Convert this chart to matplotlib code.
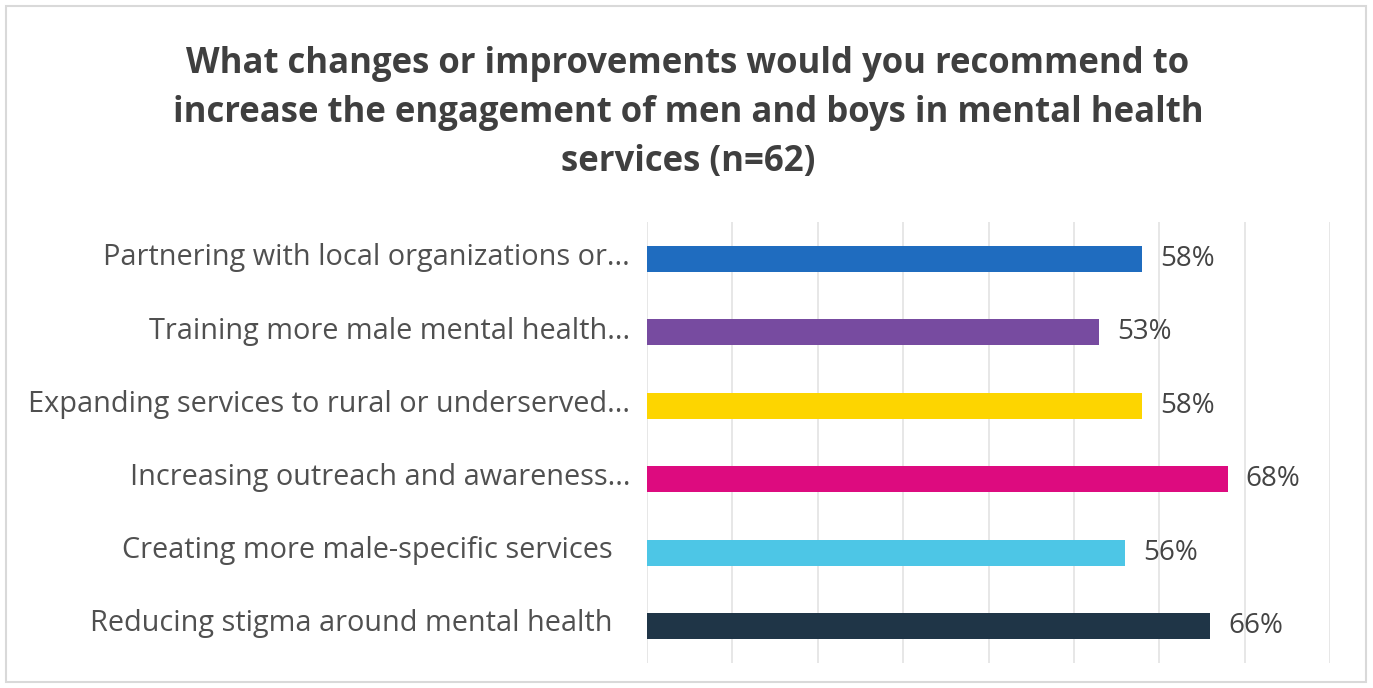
import matplotlib
matplotlib.use("Agg")
from matplotlib import pyplot as plt
from matplotlib.patches import Rectangle

# survey responses, top to bottom as shown
categories = [
    "Partnering with local organizations or...",
    "Training more male mental health...",
    "Expanding services to rural or underserved...",
    "Increasing outreach and awareness...",
    "Creating more male-specific services",
    "Reducing stigma around mental health",
]
shares = [0.58, 0.53, 0.58, 0.68, 0.56, 0.66]
bar_colors = ["#1f6cbf", "#774ba0", "#fdd500", "#dd0b7f", "#4dc6e6", "#1f3547"]
title = ("What changes or improvements would you recommend to\n"
         "increase the engagement of men and boys in mental health\n"
         "services (n=62)")

W, H = 1373, 688
fig = plt.figure(figsize=(W / 100, H / 100), dpi=100)
fig.patch.set_facecolor("white")

# light frame around the whole card
fig.patches.append(Rectangle((6 / W, 6 / H), 1360 / W, 676 / H, transform=fig.transFigure,
                             fill=False, edgecolor="#d9d9d9", linewidth=1.5))

fig.text(688 / W, 1 - 113 / H, title, ha="center", va="center", fontsize=25,
         fontweight="bold", family="Open Sans", color="#3f3f3f", linespacing=1.5)

left, right, top, bottom = 647, 1330, 222, 663
ax = fig.add_axes([left / W, 1 - bottom / H, (right - left) / W, (bottom - top) / H])

y = list(range(len(categories)))
ax.barh(y, shares, height=0.35, color=bar_colors, zorder=3)
ax.set_xlim(0, 0.8)
ax.set_ylim(len(categories) - 0.5, -0.5)

ax.set_xticks([i / 10 for i in range(9)])
ax.grid(axis="x", color="#e3e3e3", linewidth=1.2, zorder=0)
ax.tick_params(axis="x", length=0, labelbottom=False)
ax.tick_params(axis="y", length=0, pad=0)
ax.set_yticks(y)
ax.set_yticklabels([])
for s in ax.spines.values():
    s.set_visible(False)

# category labels, right aligned next to the axis
for i, name in enumerate(categories):
    end = 630 if name.endswith("...") else 613
    fig.text(end / W, 1 - (258 + 73.2 * i) / H, name, ha="right", va="center",
             fontsize=20.8, family="Open Sans", color="#505050")

for i, v in enumerate(shares):
    ax.text(v + 0.021, i, f"{round(v * 100)}%", ha="left", va="center",
            fontsize=20, family="Open Sans", color="#444444")

fig.savefig("out.png", dpi=100)
